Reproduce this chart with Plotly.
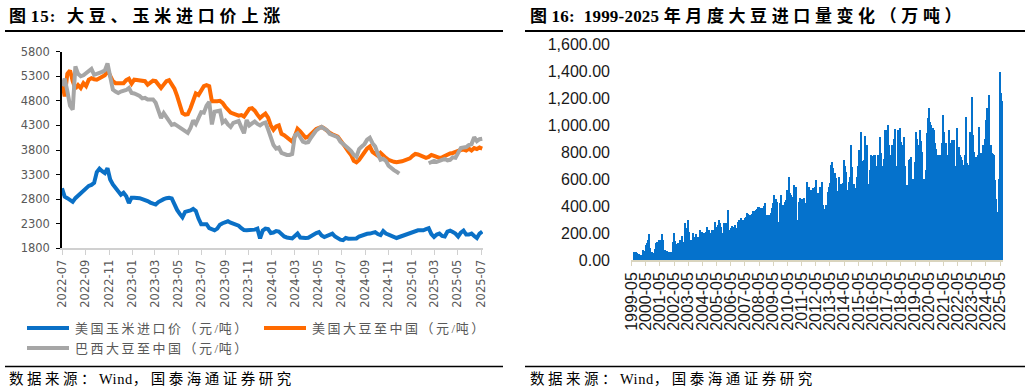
import pandas as pd
import plotly.graph_objects as go

W, H = 1032, 392

# ---------------- Left chart data (weekly, from 2022-07-01) ----------------
corn_us = [
    3020, 2850, 2820, 2790, 2745, 2820, 2870, 2920, 2950, 3010, 3070, 3090, 3130, 3350, 3420, 3370, 3330, 3430,
    3200, 3100, 3040, 2980, 2890, 2930, 2860, 2720, 2830, 2830, 2830, 2820, 2800, 2785, 2760, 2730, 2700, 2690,
    2740, 2780, 2800, 2820, 2830, 2815, 2680, 2580, 2500, 2430, 2540, 2550, 2570, 2600, 2560, 2405, 2290,
    2290, 2290, 2210, 2180, 2165, 2200, 2280, 2310, 2320, 2350, 2320, 2300, 2290, 2260, 2210, 2170, 2165, 2170,
    2165, 2180, 2200, 2000, 2160, 2200, 2190, 2110, 2120, 2150, 2140, 2080, 2040, 2020, 2000, 2000, 2050, 2100,
    2020, 2010, 2010, 2015, 2050, 2080, 2110, 2130, 2060, 2030, 2060, 2075, 2100, 2040, 1995, 1975, 1965,
    2010, 1995, 1990, 1985, 2000, 2040, 2065, 2080, 2095, 2100, 2120, 2130, 2090, 2070, 2150, 2100, 2080, 2060,
    2030, 2010, 2030, 2050, 2065, 2080, 2095, 2110, 2150, 2167, 2165, 2167, 2190, 2210, 2090, 2030, 2080, 2100,
    2050, 2040, 2140, 2160, 2130, 2100, 2040, 2120, 2160, 2080, 2080, 2100, 2050, 2010, 2100, 2140,
]
soy_us = [
    5200, 4890, 5350, 5420, 5200, 5050, 5120, 5060, 5160, 5100, 5230, 5260, 5240, 5230, 5260, 5290, 5320, 5420,
    5320, 5200, 5160, 5160, 5155, 5160, 5220, 5250, 5150, 5230, 5225, 5220, 5215, 5200, 5130, 5180, 5210, 5200,
    5120, 5060, 5130, 5200, 5220, 5150, 5050, 4900, 4700, 4550, 4520, 4530, 4650, 4820, 4950, 4920, 5020,
    5100, 5120, 5100, 4790, 4780, 4790, 4800, 4760, 4680, 4620, 4560, 4540, 4510, 4500, 4510, 4480, 4560, 4640,
    4650, 4600, 4520, 4450, 4500, 4540, 4460, 4300, 4210, 4280, 4300, 4130, 4100, 4060, 4000, 3970, 4080, 4230,
    4180, 4100, 4050, 4070, 4130, 4190, 4230, 4250, 4270, 4240, 4180, 4150, 4120, 4090, 4070, 4000, 3910,
    3850, 3770, 3700, 3580, 3550, 3600, 3680, 3780, 3830, 3870, 3760, 3720, 3680, 3740, 3680, 3640, 3600, 3570,
    3560, 3550, 3555, 3570, 3590, 3610, 3630, 3680, 3720, 3710, 3690, 3660, 3640, 3660, 3700, 3680, 3660, 3640,
    3650, 3680, 3700, 3730, 3740, 3770, 3780, 3800, 3810, 3790, 3830, 3790, 3840, 3820, 3850, 3830,
]
soy_br = [
    5100, 5250, 5000, 4700, 4620, 5500, 5350, 5300, 5320, 5360, 5400, 5450, 5330, 5340, 5370, 5390, 5420, 5560,
    5300, 5030, 4990, 4960, 4990, 5000, 5020, 5060, 4960, 4950, 4930, 4900, 4850, 4860, 4830, 4820, 4830, 4760,
    4600, 4450, 4550, 4480, 4400, 4310, 4330, 4290, 4270, 4220, 4190, 4150, 4250, 4400, 4330, 4430, 4570,
    4560, 4700, 4780, 4320, 4580, 4590, 4600, 4360, 4400, 4320, 4270, 4350, 4380, 4390, 4260, 4140, 4410, 4300,
    4340, 4380, 4330, 4300, 4340, 4360, 4220, 4070, 3900, 3830, 3850, 3740, 3710, 3700, 3700, 3720, 4100, 4140,
    4060, 3970, 3950, 3960, 4050, 4130, 4200, 4240, 4270, 4230, 4200, 4130, 4110, 4080, 4060, 3970, 3930,
    3880, 3830, 3780, 3700, 3660, 3820, 3870, 3920, 4010, 4050, 3940, 3870, 3720, 3600, 3620, 3580, 3480, 3430,
    3390, 3360, 3320, None, None, None, None, None, None, None, None, None, None,
    3530, 3560, 3580, 3560, 3570, 3600, 3620, 3590, 3600, 3650, 3640, 3730, 3840, 3850, 3860, 3900, 3920, 4060,
    3980, 4020, 4030,
]
weeks = pd.date_range("2022-07-01", periods=len(corn_us), freq="7D")
series_names = ["美国玉米进口价（元/吨）", "美国大豆至中国（元/吨）", "巴西大豆至中国（元/吨）"]

# ---------------- Right chart data (monthly imports, 万吨) ----------------
y1999 = [None, None, 60, 62, 58, 55, 45, 38]  # May-Dec
y2000 = [35, 40, 74, 70, 110, 125, 150, 193, 86, 60, 49, 55]
y2001 = [80, 123, 135, 148, 140, 150, 193, 148, 74, 70, 65, 61]
y2002 = [58, 61, 62, 136, 198, 140, 118, 123, 110, 148, 140, 175]
y2003 = [130, 272, 180, 235, 296, 210, 148, 140, 198, 160, 173, 190]
y2004 = [173, 160, 222, 200, 210, 198, 185, 210, 247, 160, 222, 200]
y2005 = [222, 200, 220, 284, 247, 260, 296, 272, 247, 200, 272, 247]
y2006 = [272, 247, 370, 222, 235, 250, 247, 220, 259, 240, 280, 300]
y2007 = [290, 309, 300, 296, 310, 320, 346, 340, 333, 310, 340, 360]
y2008 = [360, 370, 380, 395, 390, 383, 383, 383, 400, 420, 210, 333]
y2009 = [333, 333, 350, 383, 420, 481, 450, 432, 284, 284, 420, 481]
y2010 = [407, 407, 430, 444, 520, 617, 494, 480, 470, 383, 555, 540]
y2011 = [300, 235, 432, 457, 450, 440, 457, 420, 400, 580, 543, 520]
y2012 = [470, 518, 530, 543, 593, 500, 432, 494, 540, 580, 407, 321]
y2013 = [380, 407, 506, 540, 568, 704, 728, 680, 642, 605, 510, 420]
y2014 = [617, 560, 518, 568, 741, 700, 654, 518, 580, 617, 852, 691]
y2015 = [560, 432, 531, 617, 700, 815, 951, 728, 735, 741, 919, 850]
y2016 = [370, 560, 667, 778, 770, 778, 778, 642, 700, 778, 914, 790]
y2017 = [700, 617, 750, 963, 960, 1000, 852, 780, 704, 852, 900, 968]
y2018 = [700, 580, 963, 975, 877, 850, 802, 914, 700, 555, 555, 741]
y2019 = [750, 765, 600, 506, 728, 951, 900, 852, 963, 880, 802, 543]
y2020 = [600, 667, 939, 1050, 1123, 1025, 1000, 980, 963, 864, 820, 778]
y2021 = [778, 691, 780, 864, 1074, 950, 864, 691, 780, 963, 864, 889]
y2022 = [880, 889, 518, 700, 975, 839, 778, 760, 741, 704, 780, 1062]
y2023 = [716, 700, 704, 951, 1210, 926, 800, 716, 760, 778, 988, 778]
y2024 = [790, 780, 852, 900, 1037, 1123, 1000, 1222, 852, 790, 785, 778]
y2025 = [593, 450, 358, 600, 1395, 1235, 1180]  # Jan-Jul

imports = (y1999 + y2000 + y2001 + y2002 + y2003 + y2004 + y2005 + y2006 + y2007 + y2008 + y2009 + y2010
           + y2011 + y2012 + y2013 + y2014 + y2015 + y2016 + y2017 + y2018 + y2019 + y2020 + y2021 + y2022
           + y2023 + y2024 + y2025)
months = list(pd.period_range("1999-05", "2025-07", freq="M").strftime("%Y-%m"))
month_ticks = [f"{y}-05" for y in range(1999, 2026)]

# ---------------- Styles ----------------
BLUE, ORANGE, GREY = "#0A70C6", "#FF6A00", "#A6A6A6"
BAR = "#0572CC"
TXT_GREY = "#595959"
CJK = "Liberation Serif, Noto Sans CJK SC"


def px(x):
    return x / W


def py(y):
    return 1 - y / H


def spaced(text, cjk_sp, lat_sp):
    runs, buf, cur = [], "", None
    for ch in text:
        k = ord(ch) > 0x2E7F
        if cur is None or k == cur:
            buf += ch
        else:
            runs.append((cur, buf))
            buf = ch
        cur = k
    runs.append((cur, buf))
    return "".join(f'<span style="letter-spacing:{cjk_sp if k else lat_sp}px">{s}</span>' for k, s in runs)


fig = go.Figure()
for vals, name, col in zip([corn_us, soy_us, soy_br], series_names, [BLUE, ORANGE, GREY]):
    fig.add_trace(go.Scatter(x=weeks, y=vals, mode="lines", name=name,
                             line=dict(color=col, width=4), xaxis="x", yaxis="y", showlegend=False))

fig.add_trace(go.Bar(x=months, y=imports, marker=dict(color=BAR, line=dict(width=0)),
                     xaxis="x2", yaxis="y2", showlegend=False))

fig.update_layout(
    width=W, height=H, margin=dict(l=0, r=0, t=0, b=0, autoexpand=False),
    paper_bgcolor="white", plot_bgcolor="white", bargap=0,
    xaxis=dict(domain=[px(62), px(483)], type="date", range=["2022-07-01", "2025-07-06"],
               tick0="2022-07-01", dtick="M2", tickformat="%Y-%m", tickangle=-90, automargin=False,
               ticks="outside", ticklen=5, tickcolor="#D0D0D0", showline=True, linecolor="#D0D0D0",
               linewidth=1.5, showgrid=False, zeroline=False, anchor="y",
               tickfont=dict(family="DejaVu Sans", size=11.5, color=TXT_GREY)),
    yaxis=dict(domain=[py(248.3), py(51.7)], range=[1800, 5800], tick0=1800, dtick=500, automargin=False,
               ticks="outside", ticklen=4, tickcolor="#000", showline=True, linecolor="#000",
               linewidth=1.5, showgrid=False, zeroline=False, ticklabelstandoff=4, anchor="x",
               tickfont=dict(family="DejaVu Sans", size=11.5, color=TXT_GREY)),
    xaxis2=dict(domain=[px(631), px(1003)], type="category", range=[-0.5, len(months) - 0.5],
                tickmode="array", tickvals=month_ticks, ticktext=month_ticks, tickangle=-90, automargin=False,
                ticks="outside", ticklen=4, tickcolor="#D9D4BE", showline=True, linecolor="#D9D4BE",
                linewidth=1.5, showgrid=False, zeroline=False, anchor="y2",
                tickfont=dict(family="Liberation Sans", size=16, color="#1a1a1a")),
    yaxis2=dict(domain=[py(260), py(44)], range=[0, 1600], dtick=200, tickformat=",.2f", automargin=False,
                showline=False, ticks="", showgrid=False, zeroline=False, ticklabelstandoff=20,
                tickfont=dict(family="Liberation Sans", size=16, color="#1a1a1a"), anchor="x2"),
)

shapes = []
annots = []
# header / footer rules
for x0, x1 in [(5, 503), (525, 1025)]:
    shapes.append(dict(type="line", xref="paper", yref="paper", x0=px(x0), x1=px(x1), y0=py(31), y1=py(31),
                       line=dict(color="#000", width=2)))
    shapes.append(dict(type="line", xref="paper", yref="paper", x0=px(x0), x1=px(x1), y0=py(366.5),
                       y1=py(366.5), line=dict(color="#000", width=1.5)))

# titles
annots.append(dict(text=spaced("图15:  大豆、玉米进口价上涨", 4.8, 1), x=px(7), y=py(16), xref="paper",
                   yref="paper", xanchor="left", yanchor="middle", showarrow=False,
                   font=dict(family=CJK, size=17, color="#000", weight="bold")))
annots.append(dict(text=spaced("图16:  1999-2025 年月度大豆进口量变化（万吨）", 4.6, 0.2), x=px(528), y=py(16),
                   xref="paper", yref="paper", xanchor="left", yanchor="middle", showarrow=False,
                   font=dict(family=CJK, size=17, color="#000", weight="bold")))
# sources
for x0 in (7, 528):
    annots.append(dict(text=spaced("数据来源：Wind，国泰海通证券研究", 3.5, 0.5), x=px(x0), y=py(379),
                       xref="paper", yref="paper", xanchor="left", yanchor="middle", showarrow=False,
                       font=dict(family=CJK, size=14.5, color="#000")))

# legend (manual)
legend_pos = [(27, 328), (264, 328), (27, 348)]
for (lx, ly), name, col in zip(legend_pos, series_names, [BLUE, ORANGE, GREY]):
    shapes.append(dict(type="line", xref="paper", yref="paper", x0=px(lx), x1=px(lx + 42), y0=py(ly),
                       y1=py(ly), line=dict(color=col, width=4)))
    annots.append(dict(text=spaced(name, 2.5, 0.5), x=px(lx + 46), y=py(ly), xref="paper", yref="paper",
                       xanchor="left", yanchor="middle", showarrow=False,
                       font=dict(family=CJK, size=13, color=TXT_GREY)))

fig.update_layout(shapes=shapes, annotations=annots)
fig.write_html("out.html", config={"displayModeBar": False},
               post_script="document.body.style.margin='0';document.body.style.padding='0';")
